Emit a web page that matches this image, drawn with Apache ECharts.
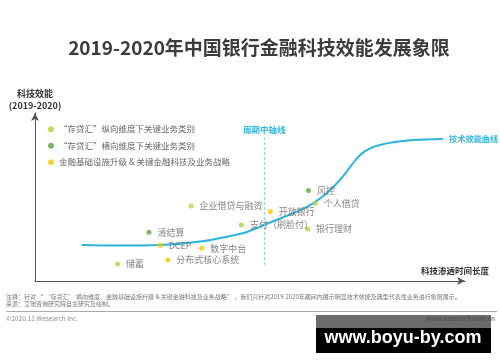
<!DOCTYPE html>
<html>
<head>
<meta charset="utf-8">
<script src="https://cdn.jsdelivr.net/npm/echarts@6/dist/echarts.min.js"></script>
<style>
html,body{margin:0;padding:0;background:#fff;}
#chart{width:500px;height:362px;}
</style>
</head>
<body>
<div id="chart"></div>
<script>
// ---- data ----
var titleText = '2019-2020年中国银行金融科技效能发展象限';
var yAxisName = ['科技效能', '(2019-2020)'];
var xAxisName = '科技渗透时间长度';
var curveName = '技术效能曲线';
var midlineName = '周期中轴线';
var midlineX = 53.3;
var midlineRange = [9.5, 85.1];

// technology efficiency curve: [penetration time, efficiency]
var curveX = [10.9, 19.8, 29.1, 38.4, 45.4, 49.3, 52.3, 57.0, 61.6, 64.7, 67.9, 70.9, 73.3, 75.6, 77.9, 80.2, 83.7, 87.9, 94.9];
var curveY = [21.4, 21.1, 21.4, 23.5, 26.8, 29.2, 32.4, 37.2, 42.0, 46.4, 52.4, 60.1, 67.9, 75.0, 78.9, 81.0, 82.7, 83.9, 84.5];

var legendNames = ['“存贷汇”纵向维度下关键业务类别', '“存贷汇”横向维度下关键业务类别', '金融基础设施升级 & 关键金融科技及业务战略'];

var verticalNames = ['个人借贷', '支付（刷脸付）', '银行理财', '企业借贷与融资', '储蓄'];
var verticalX = [65.2, 48.0, 63.4, 36.3, 19.2];
var verticalY = [46.3, 33.3, 31.0, 44.6, 10.1];

var horizontalNames = ['风控', '清结算'];
var horizontalX = [63.6, 26.5];
var horizontalY = [53.8, 29.0];

var infraNames = ['开放银行', 'DCEP', '数字中台', '分布式核心系统'];
var infraX = [54.7, 29.1, 38.8, 30.9];
var infraY = [41.4, 21.3, 19.5, 12.5];

var noteLines = [
  '注释：针对 “ ‘存贷汇’ 横向维度、金融基础设施升级 & 关键金融科技及业务战略” ，我们只针对2019-2020年期间内展示明显技术效能及典型代表性业务进行象限展示。',
  '来源：艾瑞咨询研究院自主研究及绘制。'
];
var copyrightText = '©2020.11 iResearch Inc.';
var siteText = 'www.iresearch.com.cn';
var watermarkText = 'www.boyu-by.com';

// ---- build ----
var FONT = '"Noto Sans CJK SC", "Noto Sans", sans-serif';
var COL_LG = '#b5d334', COL_G = '#5da83b', COL_Y = '#fbc700', CYAN = '#2db4de';

function pts(xs, ys, names) {
  return xs.map(function (x, i) { return { value: [x, ys[i]], name: names ? names[i] : '' }; });
}
function scatter(name, color, xs, ys, names) {
  return {
    name: name, type: 'scatter', symbol: 'circle', symbolSize: 5,
    itemStyle: { color: color },
    data: pts(xs, ys, names),
    label: { show: true, position: 'right', distance: 6, formatter: '{b}',
      color: '#666', fontSize: 9, fontFamily: FONT },
    z: 5
  };
}

var chart = echarts.init(document.getElementById('chart'), null, { renderer: 'canvas' });
var axisCommon = {
  type: 'value', min: 0, max: 100,
  splitLine: { show: false }, axisTick: { show: false }, axisLabel: { show: false },
  axisLine: { show: true, symbol: ['none', 'arrow'], symbolSize: [6, 8], lineStyle: { color: '#555', width: 1 } }
};
chart.setOption({
  backgroundColor: '#fff',
  animation: false,
  grid: { left: 35, right: 35, top: 113, bottom: 81 },
  xAxis: axisCommon,
  yAxis: axisCommon,
  legend: {
    orient: 'vertical', left: 43, top: 120, itemWidth: 6, itemHeight: 6, itemGap: 8,
    icon: 'circle', data: legendNames,
    textStyle: { color: '#666', fontSize: 8.5, fontFamily: FONT }
  },
  series: [
    {
      name: curveName, type: 'line', smooth: 0.4, showSymbol: false,
      data: curveX.map(function (x, i) { return [x, curveY[i]]; }),
      lineStyle: { color: CYAN, width: 2 },
      endLabel: { show: true, formatter: curveName, distance: 6, color: '#35b6e0', fontSize: 8.2, fontWeight: 'bold', fontFamily: FONT },
      markLine: {
        silent: true, symbol: 'none',
        lineStyle: { color: '#8fd8e6', type: [3, 2], width: 1 },
        label: { show: true, position: 'end', formatter: midlineName, color: '#35b6e0', fontSize: 8.5, fontWeight: 'bold', fontFamily: FONT, distance: 4 },
        data: [[{ coord: [midlineX, midlineRange[0]] }, { coord: [midlineX, midlineRange[1]] }]]
      },
      z: 3
    },
    scatter(legendNames[0], COL_LG, verticalX, verticalY, verticalNames),
    scatter(legendNames[1], COL_G, horizontalX, horizontalY, horizontalNames),
    scatter(legendNames[2], COL_Y, infraX, infraY, infraNames)
  ],
  graphic: [
    { type: 'text', x: 259, y: 48, style: { text: titleText, fill: '#3c3c3c', font: 'bold 19px ' + FONT, textAlign: 'center', textVerticalAlign: 'middle' } },
    { type: 'text', x: 35, y: 94, style: { text: yAxisName[0], fill: '#333', font: 'bold 9px ' + FONT, textAlign: 'center', textVerticalAlign: 'middle' } },
    { type: 'text', x: 35, y: 106, style: { text: yAxisName[1], fill: '#333', font: 'bold 9px ' + FONT, textAlign: 'center', textVerticalAlign: 'middle' } },
    { type: 'text', x: 489, y: 271, style: { text: xAxisName, fill: '#333', font: 'bold 8.5px ' + FONT, textAlign: 'right', textVerticalAlign: 'middle' } },
    { type: 'text', x: 6, y: 296.5, style: { text: noteLines[0], fill: '#777', font: '6px ' + FONT, textVerticalAlign: 'middle' } },
    { type: 'text', x: 6, y: 303.5, style: { text: noteLines[1], fill: '#777', font: '6px ' + FONT, textVerticalAlign: 'middle' } },
    { type: 'line', shape: { x1: 6, y1: 311.5, x2: 497, y2: 311.5 }, style: { stroke: '#aaa', lineWidth: 1 } },
    { type: 'text', x: 6, y: 318.5, style: { text: copyrightText, fill: '#888', font: '6.5px ' + FONT, textVerticalAlign: 'middle' } },
    { type: 'rect', shape: { x: 316, y: 315, width: 175, height: 13 }, style: { fill: '#6b6b6b' } },
    { type: 'rect', shape: { x: 316, y: 328, width: 175, height: 25 }, style: { fill: '#000' } },
    { type: 'text', x: 495, y: 318.5, style: { text: siteText, fill: '#4a4a4a', font: '6.5px ' + FONT, textAlign: 'right', textVerticalAlign: 'middle' } },
    { type: 'text', x: 403, y: 338, style: { text: watermarkText, fill: '#fff', font: 'bold 18px "Liberation Sans", Arial, sans-serif', textAlign: 'center', textVerticalAlign: 'middle' } }
  ]
});
</script>
</body>
</html>
